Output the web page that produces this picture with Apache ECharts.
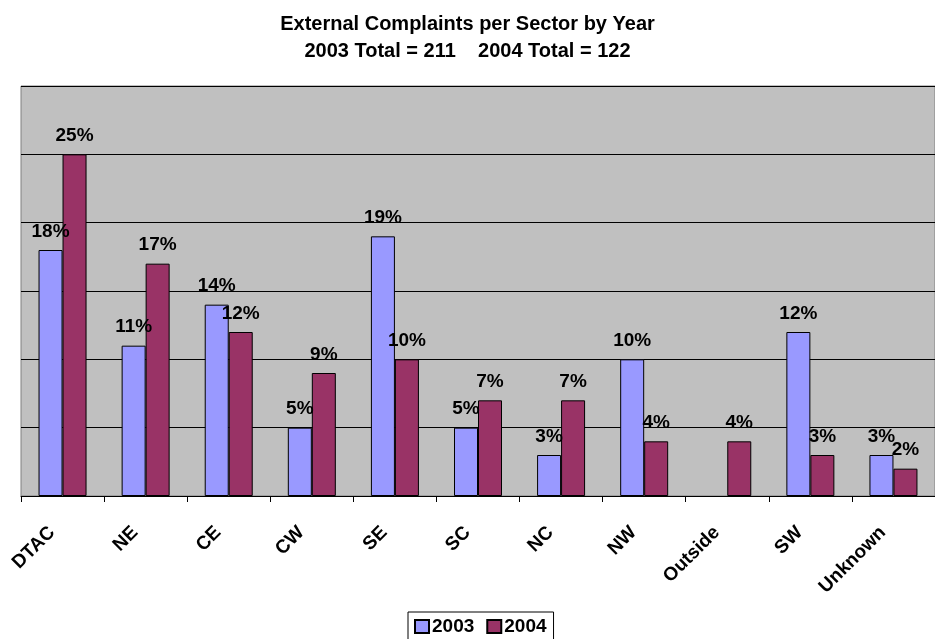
<!DOCTYPE html>
<html>
<head>
<meta charset="utf-8">
<script src="https://cdn.jsdelivr.net/npm/echarts@6/dist/echarts.min.js"></script>
<style>
  html, body { margin: 0; padding: 0; background: #fff; }
  #chart { width: 935px; height: 639px; }
</style>
</head>
<body>
<div id="chart"></div>
<script>
// Complaint share per sector, percent of each year's total
const sectors = ['DTAC', 'NE', 'CE', 'CW', 'SE', 'SC', 'NC', 'NW', 'Outside', 'SW', 'Unknown'];
const share2003 = [18, 11, 14, 5, 19, 5, 3, 10, null, 12, 3];
const share2004 = [25, 17, 12, 9, 10, 7, 7, 4, 4, 3, 2];
const seriesNames = ['2003', '2004'];

const FONT = 'Arial, "Liberation Sans", sans-serif';

const labelStyle = {
  show: true,
  position: 'top',
  distance: 9,
  formatter: p => p.value + '%',
  color: '#000',
  fontFamily: FONT,
  fontWeight: 'bold',
  fontSize: 19
};

const chart = echarts.init(document.getElementById('chart'));
chart.setOption({
  backgroundColor: '#fff',
  animation: false,
  title: {
    text: 'External Complaints per Sector by Year\n2003 Total = 211    2004 Total = 122',
    left: 'center',
    top: 6,
    textStyle: {
      fontFamily: FONT,
      fontWeight: 'bold',
      fontSize: 20,
      lineHeight: 27,
      color: '#000'
    }
  },
  legend: {
    data: seriesNames,
    left: 408,
    top: 612,
    icon: 'rect',
    itemWidth: 14,
    itemHeight: 13,
    itemGap: 12,
    padding: [5, 7, 5, 6],
    borderColor: '#000',
    borderWidth: 1,
    textStyle: {
      fontFamily: FONT,
      fontWeight: 'bold',
      fontSize: 19,
      color: '#000',
      padding: [0, 0, 0, -2]
    }
  },
  grid: {
    left: 21,
    top: 86,
    width: 922,
    height: 410,
    show: true,
    backgroundColor: '#C0C0C0',
    borderColor: '#808080',
    borderWidth: 1
  },
  xAxis: {
    type: 'category',
    data: sectors,
    axisLine: { lineStyle: { color: '#000', width: 1 } },
    axisTick: { show: true, length: 6, lineStyle: { color: '#000' } },
    axisLabel: {
      rotate: 45,
      margin: 23,
      interval: 0,
      padding: [0, 15, 0, 0],
      color: '#000',
      fontFamily: FONT,
      fontWeight: 'bold',
      fontSize: 19
    }
  },
  yAxis: {
    type: 'value',
    min: 0,
    max: 30,
    interval: 5,
    axisLine: { show: false },
    axisTick: { show: false },
    axisLabel: { show: false },
    splitLine: { lineStyle: { color: '#000', width: 1 } }
  },
  series: [
    {
      name: seriesNames[0],
      type: 'bar',
      data: share2003,
      barWidth: 24,
      barGap: '0%',
      itemStyle: { color: '#9999FF', borderColor: '#000', borderWidth: 1 },
      label: labelStyle
    },
    {
      name: seriesNames[1],
      type: 'bar',
      data: share2004,
      barWidth: 24,
      itemStyle: { color: '#993366', borderColor: '#000', borderWidth: 1 },
      label: labelStyle
    }
  ]
});
</script>
</body>
</html>
